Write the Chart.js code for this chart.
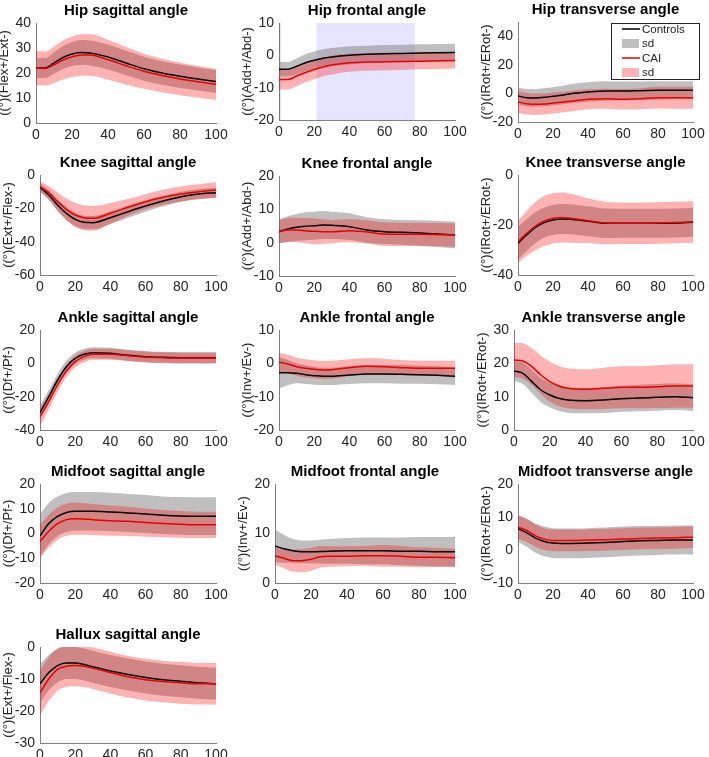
<!DOCTYPE html>
<html>
<head>
<meta charset="utf-8">
<script src="https://cdn.jsdelivr.net/npm/chart.js@4.4.1/dist/chart.umd.min.js"></script>
<style>
html, body { margin: 0; padding: 0; background: #fff; }
#fig { position: relative; width: 709px; height: 757px; overflow: hidden; }
#fig canvas { position: absolute; }
</style>
</head>
<body>
<div id="fig"></div>
<script>
// gait cycle (%) where the curves were read
const cycle = [0, 5, 10, 15, 20, 25, 30, 40, 50, 60, 70, 80, 90, 100];
const xTicks = [0, 20, 40, 60, 80, 100];

// hip
const hipSagCtrl   = [22, 22, 24, 26.2, 27.6, 28.2, 28, 26.4, 24, 21.7, 20, 18.7, 17.6, 16.6];
const hipSagCtrlSd = [4, 4, 4.3, 4.6, 4.8, 5, 5, 5, 4.9, 4.8, 4.7, 4.7, 4.6, 4.6];
const hipSagCai    = [22, 21.8, 23.3, 25.2, 26.5, 27.2, 27.2, 25.3, 22.9, 20.7, 19, 17.6, 16.5, 15.5];
const hipSagCaiSd  = [6.8, 6.8, 7.3, 7.8, 8.1, 8.3, 8.3, 8, 7.5, 7, 6.7, 6.5, 6.3, 6.2];

const hipFrCtrl   = [-4.3, -4.3, -3.4, -2.3, -1.5, -0.9, -0.5, 0, 0.3, 0.5, 0.6, 0.7, 0.8, 0.9];
const hipFrCtrlSd = [2.2, 2.2, 2.4, 2.6, 2.7, 2.8, 2.8, 2.8, 2.7, 2.7, 2.7, 2.7, 2.7, 2.7];
const hipFrCai    = [-7.5, -7.5, -6.4, -5.3, -4.4, -3.6, -3, -2.3, -2.1, -2, -1.9, -1.8, -1.7, -1.6];
const hipFrCaiSd  = [3.1, 3.1, 3.1, 3, 3, 2.9, 2.9, 2.8, 2.7, 2.6, 2.6, 2.5, 2.5, 2.5];
const hipFrSpans  = [[0, 1.3], [21.3, 77.2]];

const hipTrCtrl   = [-1.8, -3, -3.2, -2.7, -2, -1.3, -0.2, 1, 1.7, 1.7, 1.9, 2.2, 2.2, 2.2];
const hipTrCtrlSd = [6, 6.1, 6.2, 6.3, 6.4, 6.5, 6.6, 6.8, 6.8, 6.6, 6.5, 6.4, 6.3, 6.3];
const hipTrCai    = [-6, -7.2, -7.6, -7.4, -6.7, -6.1, -5.5, -4.1, -3.7, -4.1, -3.7, -3, -3, -3];
const hipTrCaiSd  = [7.7, 7.6, 7.5, 7.4, 7.3, 7.2, 7.1, 7, 7, 7.2, 7.4, 7.6, 7.7, 7.7];

// knee
const kneeSagCtrl   = [-7.4, -12, -18, -23, -26.6, -28.4, -28.6, -25.6, -22, -18.6, -15.6, -13, -11.4, -10.6];
const kneeSagCtrlSd = [2.5, 3, 3.5, 3.8, 4, 4, 4, 3.8, 3.6, 3.4, 3.2, 3, 3, 3];
const kneeSagCai    = [-7, -10.6, -16, -20.6, -24, -25.6, -26, -23, -19.4, -16, -13.4, -11.4, -10, -9];
const kneeSagCaiSd  = [3, 4, 5.5, 6.5, 7.2, 7.5, 7.4, 6.2, 5, 4.5, 4.5, 4.5, 4.5, 4.6];

const kneeFrCtrl   = [3.3, 4.1, 4.6, 4.9, 5.1, 5.3, 5.2, 4.8, 3.8, 3.3, 3.1, 2.9, 2.6, 2.3];
const kneeFrCtrlSd = [3.5, 3.8, 4, 4.2, 4.2, 4.2, 4.1, 4, 3.8, 3.7, 3.7, 3.8, 3.9, 4];
const kneeFrCai    = [3.3, 3.8, 3.8, 3.6, 3.4, 3.3, 3.3, 3.6, 3.2, 2.6, 2.5, 2.5, 2.4, 2.3];
const kneeFrCaiSd  = [3.5, 3.6, 3.7, 3.8, 3.9, 3.7, 3.5, 3.5, 3.5, 3.5, 3.5, 3.5, 3.5, 3.5];

const kneeTrCtrl   = [-27.3, -24, -21, -19, -18, -17.6, -17.7, -18.5, -19.3, -19.3, -19.3, -19.3, -19.2, -18.9];
const kneeTrCtrlSd = [6.6, 6.4, 6.2, 6, 6, 6, 6, 6, 5.9, 5.8, 5.8, 5.8, 5.8, 5.8];
const kneeTrCai    = [-26.7, -23.3, -20.4, -18.4, -17.3, -17, -17.3, -18.3, -19.2, -19.3, -19.3, -19.2, -19, -18.8];
const kneeTrCaiSd  = [8.4, 9, 9.6, 10, 10, 10, 9.8, 9, 8.5, 8.3, 8.3, 8.3, 8.3, 8.3];

// ankle
const ankSagCtrl   = [-29.6, -20, -10, -2, 3, 5.4, 6.4, 6, 4.8, 4, 3.6, 3.4, 3.4, 3.4];
const ankSagCtrlSd = [4, 3.8, 3.6, 3.5, 3.4, 3.3, 3.3, 3.3, 3.3, 3.3, 3.3, 3.3, 3.3, 3.3];
const ankSagCai    = [-32, -23, -13, -4.6, 1, 4, 5.4, 5.4, 4.6, 3.8, 3.4, 3.2, 3.2, 3.2];
const ankSagCaiSd  = [5.5, 4.5, 4, 3.7, 3.5, 3.4, 3.3, 3.3, 3.3, 3.3, 3.3, 3.3, 3.3, 3.3];

const ankFrCtrl   = [-2.8, -2.8, -3, -3.4, -3.7, -3.9, -3.9, -3.5, -3.2, -3.2, -3.3, -3.4, -3.6, -3.9];
const ankFrCtrlSd = [4.7, 3.8, 3, 2.8, 2.7, 2.6, 2.6, 2.7, 2.8, 2.8, 2.8, 2.7, 2.7, 2.6];
const ankFrCai    = [0.3, -0.2, -1, -1.5, -1.8, -2, -1.9, -1.3, -0.9, -1, -1.3, -1.5, -1.5, -1.5];
const ankFrCaiSd  = [2.9, 2.8, 2.7, 2.7, 2.7, 2.7, 2.7, 2.5, 2.4, 2.4, 2.3, 2.3, 2.3, 2.3];

const ankTrCtrl   = [17.7, 17, 14.5, 12, 10.5, 9.5, 9, 8.8, 9, 9.4, 9.6, 9.8, 10, 9.7];
const ankTrCtrlSd = [3, 3.2, 3.4, 3.6, 3.7, 3.8, 3.8, 3.8, 3.9, 3.9, 4, 4, 4, 4];
const ankTrCai    = [21, 20.7, 19, 16.5, 14.5, 13.2, 12.5, 12.2, 12.5, 12.8, 12.8, 13, 13.2, 13.2];
const ankTrCaiSd  = [5.2, 5.3, 5.5, 5.8, 6, 6, 6, 6, 6.2, 6.3, 6.3, 6.4, 6.5, 6.5];

// midfoot
const midSagCtrl   = [-0.9, 4, 6.9, 8.5, 9, 9, 9, 8.7, 8.3, 7.9, 7.4, 7.1, 7, 7];
const midSagCtrlSd = [8.5, 8.3, 8, 7.9, 7.8, 7.8, 7.8, 7.8, 7.7, 7.7, 7.6, 7.6, 7.6, 7.6];
const midSagCai    = [-3.2, 0.9, 4, 5.6, 6, 5.9, 5.6, 5.2, 4.9, 4.4, 4, 3.7, 3.5, 3.5];
const midSagCaiSd  = [6.7, 6.6, 6.5, 6.5, 6.5, 6.4, 6.3, 6.1, 5.9, 5.7, 5.5, 5.4, 5.3, 5.3];

const midFrCtrl   = [7.5, 6.9, 6.5, 6.3, 6.3, 6.35, 6.4, 6.5, 6.5, 6.5, 6.4, 6.4, 6.3, 6.3];
const midFrCtrlSd = [3.3, 2.8, 2.4, 2.3, 2.3, 2.4, 2.5, 2.6, 2.7, 2.7, 2.8, 2.9, 3, 3];
const midFrCai    = [5.5, 5, 4.5, 4.5, 4.8, 5.3, 5.4, 5.4, 5.5, 5.5, 5.4, 5.2, 5.2, 5.1];
const midFrCaiSd  = [1.8, 2, 2.2, 2.3, 2.3, 2.2, 2.1, 2, 2, 2.2, 2.1, 2, 1.9, 1.8];

const midTrCtrl   = [6.5, 5.2, 3.6, 2.6, 2.1, 2, 2, 2.1, 2.3, 2.6, 2.8, 2.9, 3, 3];
const midTrCtrlSd = [4, 4.2, 4.4, 4.5, 4.5, 4.5, 4.5, 4.5, 4.5, 4.5, 4.5, 4.4, 4.4, 4.4];
const midTrCai    = [6.9, 5.9, 4.3, 3.3, 2.9, 2.9, 2.9, 3, 3.1, 3.3, 3.5, 3.6, 3.7, 3.9];
const midTrCaiSd  = [3.6, 3.5, 3.4, 3.3, 3.3, 3.3, 3.3, 3.3, 3.3, 3.3, 3.3, 3.3, 3.3, 3.3];

// hallux
const halSagCtrl   = [-11.5, -8, -5.8, -5, -5, -5.5, -6.2, -7.5, -8.6, -9.5, -10.2, -10.7, -11.2, -11.5];
const halSagCtrlSd = [6, 5.5, 5.2, 5, 5, 5, 5, 5, 5, 5, 5, 5, 5, 5];
const halSagCai    = [-14.3, -10, -7, -6, -5.8, -6, -6.6, -8, -9.3, -10.2, -10.8, -11.2, -11.5, -11.5];
const halSagCaiSd  = [7, 6.8, 6.6, 6.5, 6.5, 6.5, 6.5, 6.5, 6.5, 6.5, 6.5, 6.5, 6.5, 6.5];

const legendLabels = ['Controls', 'sd', 'CAI', 'sd'];

const panels = [
  { title: 'Hip sagittal angle', yLabel: '((°)(Flex+/Ext-)', ctrl: hipSagCtrl, ctrlSd: hipSagCtrlSd, cai: hipSagCai, caiSd: hipSagCaiSd, yMin: 0, yMax: 40, yTicks: [0, 10, 20, 30, 40] },
  { title: 'Hip frontal angle', yLabel: '((°)(Add+/Abd-)', ctrl: hipFrCtrl, ctrlSd: hipFrCtrlSd, cai: hipFrCai, caiSd: hipFrCaiSd, yMin: -20, yMax: 10, yTicks: [-20, -10, 0, 10], spans: hipFrSpans },
  { title: 'Hip transverse angle', yLabel: '((°)(IRot+/ERot-)', ctrl: hipTrCtrl, ctrlSd: hipTrCtrlSd, cai: hipTrCai, caiSd: hipTrCaiSd, yMin: -20, yMax: 50, yTicks: [-20, 0, 20, 40], legend: true },
  { title: 'Knee sagittal angle', yLabel: '((°)(Ext+/Flex-)', ctrl: kneeSagCtrl, ctrlSd: kneeSagCtrlSd, cai: kneeSagCai, caiSd: kneeSagCaiSd, yMin: -60, yMax: 0, yTicks: [-60, -40, -20, 0] },
  { title: 'Knee frontal angle', yLabel: '((°)(Add+/Abd-)', ctrl: kneeFrCtrl, ctrlSd: kneeFrCtrlSd, cai: kneeFrCai, caiSd: kneeFrCaiSd, yMin: -10, yMax: 20, yTicks: [-10, 0, 10, 20] },
  { title: 'Knee transverse angle', yLabel: '((°)(IRot+/ERot-)', ctrl: kneeTrCtrl, ctrlSd: kneeTrCtrlSd, cai: kneeTrCai, caiSd: kneeTrCaiSd, yMin: -40, yMax: 0, yTicks: [-40, -20, 0] },
  { title: 'Ankle sagittal angle', yLabel: '((°)(Df+/Pf-)', ctrl: ankSagCtrl, ctrlSd: ankSagCtrlSd, cai: ankSagCai, caiSd: ankSagCaiSd, yMin: -40, yMax: 20, yTicks: [-40, -20, 0, 20] },
  { title: 'Ankle frontal angle', yLabel: '((°)(Inv+/Ev-)', ctrl: ankFrCtrl, ctrlSd: ankFrCtrlSd, cai: ankFrCai, caiSd: ankFrCaiSd, yMin: -20, yMax: 10, yTicks: [-20, -10, 0, 10] },
  { title: 'Ankle transverse angle', yLabel: '((°)(IRot+/ERot-)', ctrl: ankTrCtrl, ctrlSd: ankTrCtrlSd, cai: ankTrCai, caiSd: ankTrCaiSd, yMin: 0, yMax: 30, yTicks: [0, 10, 20, 30] },
  { title: 'Midfoot sagittal angle', yLabel: '((°)(Df+/Pf-)', ctrl: midSagCtrl, ctrlSd: midSagCtrlSd, cai: midSagCai, caiSd: midSagCaiSd, yMin: -20, yMax: 20, yTicks: [-20, -10, 0, 10, 20] },
  { title: 'Midfoot frontal angle', yLabel: '((°)(Inv+/Ev-)', ctrl: midFrCtrl, ctrlSd: midFrCtrlSd, cai: midFrCai, caiSd: midFrCaiSd, yMin: 0, yMax: 20, yTicks: [0, 10, 20] },
  { title: 'Midfoot transverse angle', yLabel: '((°)(IRot+/ERot-)', ctrl: midTrCtrl, ctrlSd: midTrCtrlSd, cai: midTrCai, caiSd: midTrCaiSd, yMin: -10, yMax: 20, yTicks: [-10, 0, 10, 20] },
  { title: 'Hallux sagittal angle', yLabel: '((°)(Ext+/Flex-)', ctrl: halSagCtrl, ctrlSd: halSagCtrlSd, cai: halSagCai, caiSd: halSagCaiSd, yMin: -30, yMax: 0, yTicks: [-30, -20, -10, 0] }
];

// plot area of each axes on the page: left, top, right, bottom
const boxes = [
  [36, 23, 216, 123], [279, 23, 455, 120], [518, 22, 693, 122],
  [40, 175, 216, 275], [279, 176, 455, 276], [518, 175, 693, 275],
  [40, 330, 216, 430], [279, 330, 455, 430], [514, 330, 693, 430],
  [40, 484, 216, 583], [275, 484, 455, 583], [518, 484, 693, 583],
  [40, 647, 216, 743]
];

const FONT = '"Liberation Sans", Arial, Helvetica, sans-serif';
const TXT = '#262626';
const AXIS = '#808080';
const RED = 'rgb(235,0,0)';
const PINK = 'rgba(255,0,0,0.3)';
const GREY = 'rgba(128,128,128,0.5)';
const SPAN = 'rgba(0,0,255,0.1)';
const LEFT = 45, TOP = 24, RIGHT = 16, BOTTOM = 24;

function meanPts(m) { return cycle.map((x, i) => ({ x: x, y: m[i] })); }
function bandPts(m, sd, s) { return cycle.map((x, i) => ({ x: x, y: m[i] + s * sd[i] })); }

// shaded intervals (hip frontal)
const spanPlugin = {
  id: 'spans',
  beforeDatasetsDraw(chart, args, opts) {
    if (!opts.list) return;
    const { ctx, chartArea, scales } = chart;
    ctx.save();
    ctx.fillStyle = SPAN;
    opts.list.forEach(s => {
      const a = scales.x.getPixelForValue(s[0]);
      const b = scales.x.getPixelForValue(s[1]);
      ctx.fillRect(a, chartArea.top, b - a, chartArea.bottom - chartArea.top);
    });
    ctx.restore();
  }
};

// matlab style legend box
const legendPlugin = {
  id: 'boxLegend',
  afterDraw(chart, args, opts) {
    if (!opts.show) return;
    const { ctx, chartArea } = chart;
    const x0 = chartArea.right - 82, y0 = chartArea.top + 1, w = 89, h = 57;
    ctx.save();
    ctx.fillStyle = '#fff';
    ctx.fillRect(x0, y0, w, h);
    ctx.strokeStyle = '#262626';
    ctx.lineWidth = 1;
    ctx.strokeRect(x0 + 0.5, y0 + 0.5, w - 1, h - 1);
    ctx.font = '11.5px ' + FONT;
    ctx.textBaseline = 'middle';
    ctx.fillStyle = TXT;
    const styles = [['line', '#000'], ['patch', GREY], ['line', RED], ['patch', PINK]];
    legendLabels.forEach((lab, i) => {
      const cy = y0 + 6 + i * 14.5;
      if (styles[i][0] === 'line') {
        ctx.strokeStyle = styles[i][1];
        ctx.lineWidth = 1.5;
        ctx.beginPath();
        ctx.moveTo(x0 + 11, cy);
        ctx.lineTo(x0 + 29, cy);
        ctx.stroke();
      } else {
        ctx.fillStyle = styles[i][1];
        ctx.fillRect(x0 + 11, cy - 4.5, 17, 9);
      }
      ctx.fillStyle = TXT;
      ctx.fillText(lab, x0 + 31, cy + 0.5);
    });
    ctx.restore();
  }
};

const fig = document.getElementById('fig');

panels.forEach((p, k) => {
  const b = boxes[k];
  const cv = document.createElement('canvas');
  const w = (b[2] - b[0]) + LEFT + RIGHT;
  const h = (b[3] - b[1]) + TOP + BOTTOM;
  cv.width = w; cv.height = h;
  cv.style.width = w + 'px'; cv.style.height = h + 'px';
  cv.style.left = (b[0] - LEFT) + 'px';
  cv.style.top = (b[1] - TOP) + 'px';
  fig.appendChild(cv);

  new Chart(cv.getContext('2d'), {
    type: 'line',
    data: {
      datasets: [
        { label: 'CAI', data: meanPts(p.cai), borderColor: RED, borderWidth: 1.5, pointRadius: 0, fill: false },
        { label: 'Controls', data: meanPts(p.ctrl), borderColor: '#000', borderWidth: 1.5, pointRadius: 0, fill: false },
        { label: 'sd', data: bandPts(p.cai, p.caiSd, 1), borderWidth: 0, pointRadius: 0, fill: false },
        { label: 'sd', data: bandPts(p.cai, p.caiSd, -1), borderWidth: 0, pointRadius: 0, fill: 2, backgroundColor: PINK },
        { label: 'sd', data: bandPts(p.ctrl, p.ctrlSd, 1), borderWidth: 0, pointRadius: 0, fill: false },
        { label: 'sd', data: bandPts(p.ctrl, p.ctrlSd, -1), borderWidth: 0, pointRadius: 0, fill: 4, backgroundColor: GREY }
      ]
    },
    options: {
      responsive: false,
      animation: false,
      devicePixelRatio: 1,
      layout: { padding: { left: 0, right: RIGHT, top: 0, bottom: 0 } },
      elements: { line: { cubicInterpolationMode: 'monotone' } },
      plugins: {
        legend: { display: false },
        tooltip: { enabled: false },
        title: {
          display: true, text: p.title, color: '#000', fullSize: false,
          font: { family: FONT, size: 15, weight: 'bold' }, padding: { top: 3, bottom: 3 }
        },
        spans: { list: p.spans },
        boxLegend: { show: !!p.legend }
      },
      scales: {
        x: {
          type: 'linear', min: 0, max: 100,
          grid: { display: false, drawTicks: false },
          border: { display: true, color: AXIS, width: 1 },
          ticks: { color: TXT, font: { family: FONT, size: 14 }, padding: 4, maxRotation: 0 },
          afterBuildTicks: s => { s.ticks = xTicks.map(v => ({ value: v })); },
          afterFit: s => { s.height = BOTTOM; }
        },
        y: {
          min: p.yMin, max: p.yMax,
          grid: { display: false, drawTicks: false },
          border: { display: true, color: AXIS, width: 1 },
          ticks: { color: TXT, font: { family: FONT, size: 14 }, padding: 5 },
          title: { display: true, text: p.yLabel, color: TXT, font: { family: FONT, size: 13 }, padding: { top: 6, bottom: 0 } },
          afterBuildTicks: s => { s.ticks = p.yTicks.map(v => ({ value: v })); },
          afterFit: s => { s.width = LEFT; }
        }
      }
    },
    plugins: [spanPlugin, legendPlugin]
  });
});
</script>
</body>
</html>
